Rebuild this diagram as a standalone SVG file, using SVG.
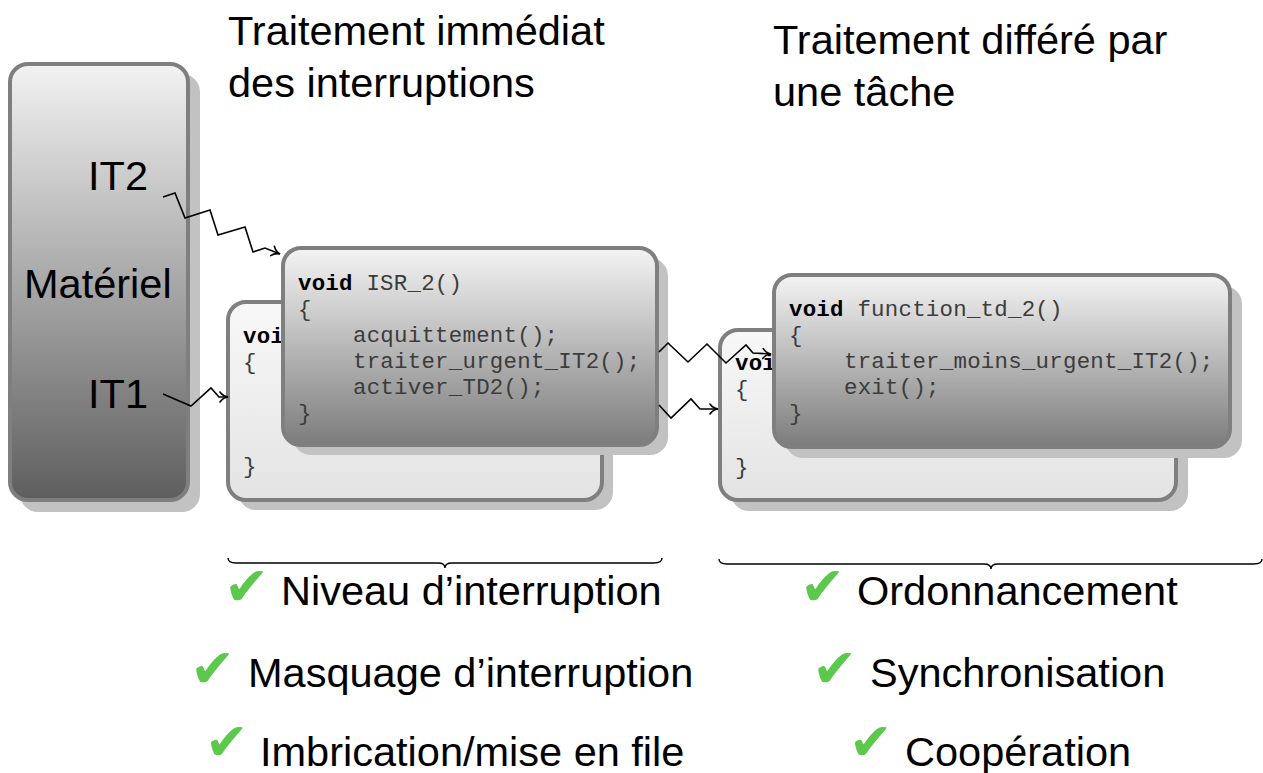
<svg xmlns="http://www.w3.org/2000/svg" width="1263" height="773" viewBox="0 0 1263 773">
  <defs>
    <linearGradient id="gHw" x1="0" y1="0" x2="0" y2="1">
      <stop offset="0" stop-color="#f2f2f2"/>
      <stop offset="1" stop-color="#5e5e5e"/>
    </linearGradient>
    <linearGradient id="gFront" x1="0" y1="0" x2="0" y2="1">
      <stop offset="0" stop-color="#f4f4f4"/>
      <stop offset="1" stop-color="#7c7c7c"/>
    </linearGradient>
    <linearGradient id="gBack" x1="0" y1="0" x2="0" y2="1">
      <stop offset="0" stop-color="#f8f8f8"/>
      <stop offset="1" stop-color="#e3e3e3"/>
    </linearGradient>
    <marker id="arrow" markerUnits="userSpaceOnUse" viewBox="-10 -6 12 12" refX="0" refY="0" markerWidth="12" markerHeight="12" orient="auto">
      <path d="M-8,-5 C-6,-2 -2.5,-0.4 0,0 C-2.5,0.4 -6,2 -8,5" fill="none" stroke="#000" stroke-width="1.6" stroke-linecap="round"/>
    </marker>
  </defs>
  <style>
    .shadow { fill: #c2c2c2; }
    .box { stroke: #7f7f7f; stroke-width: 4; }
    .title { font-family: "Liberation Sans", Arial, sans-serif; font-size: 41.5px; fill: #000; }
    .code { font-family: "Liberation Mono", "Courier New", monospace; font-size: 22.4px; letter-spacing: 0.25px; fill: #3c3c3c; white-space: pre; }
    .kw { font-weight: bold; fill: #000; }
    .check { font-family: "DejaVu Sans", sans-serif; font-size: 54px; fill: #5cc84c; }
    .check.last { font-size: 52px; }
    .wire { fill: none; stroke: #000; stroke-width: 1.6; stroke-linejoin: miter; marker-end: url(#arrow); }
    .brace { fill: none; stroke: #000; stroke-width: 1.4; }
  </style>

  <rect width="1263" height="773" fill="#fff"/>

  <!-- section headings -->
  <g id="title-immediat">
    <text class="title" x="228" y="45">Traitement immédiat</text>
    <text class="title" x="228" y="97">des interruptions</text>
  </g>
  <g id="title-differe">
    <text class="title" x="773" y="54">Traitement différé par</text>
    <text class="title" x="773" y="106">une tâche</text>
  </g>

  <!-- hardware block -->
  <g id="materiel">
    <rect class="shadow" x="20" y="74" width="180" height="438" rx="18"/>
    <rect class="box" x="10" y="64" width="178" height="436" rx="18" fill="url(#gHw)"/>
    <text class="title" x="88" y="190">IT2</text>
    <text class="title" x="24" y="298">Matériel</text>
    <text class="title" x="88" y="408">IT1</text>
  </g>

  <!-- ISR for IT1 (background card, mostly hidden) -->
  <g id="isr1">
    <rect class="shadow" x="238" y="312" width="375" height="198" rx="18"/>
    <rect class="box" x="228" y="302" width="374" height="198" rx="18" fill="url(#gBack)"/>
    <text class="code kw" x="243" y="343">void</text>
    <text class="code" x="243" y="369">{</text>
    <text class="code" x="298" y="447">activer_TD1();</text>
    <text class="code" x="243" y="473">}</text>
  </g>

  <!-- ISR for IT2 (foreground card) -->
  <g id="isr2">
    <rect class="shadow" x="293" y="258" width="375" height="197" rx="18"/>
    <rect class="box" x="283" y="248" width="374" height="197" rx="18" fill="url(#gFront)"/>
    <text class="code" x="298" y="290"><tspan class="kw">void</tspan> ISR_2()</text>
    <text class="code" x="298" y="316">{</text>
    <text class="code" x="353" y="342">acquittement();</text>
    <text class="code" x="353" y="368">traiter_urgent_IT2();</text>
    <text class="code" x="353" y="394">activer_TD2();</text>
    <text class="code" x="298" y="420">}</text>
  </g>

  <!-- deferred task for IT1 (background card, mostly hidden) -->
  <g id="td1">
    <rect class="shadow" x="731" y="340" width="457" height="171" rx="18"/>
    <rect class="box" x="720" y="330" width="456" height="170" rx="18" fill="url(#gBack)"/>
    <text class="code kw" x="735" y="370">void</text>
    <text class="code" x="735" y="396">{</text>
    <text class="code" x="790" y="448">exit();</text>
    <text class="code" x="735" y="474">}</text>
  </g>

  <!-- deferred task for IT2 (foreground card) -->
  <g id="td2">
    <rect class="shadow" x="785" y="286" width="457" height="172" rx="18"/>
    <rect class="box" x="774" y="275" width="456" height="172" rx="18" fill="url(#gFront)"/>
    <text class="code" x="789" y="316"><tspan class="kw">void</tspan> function_td_2()</text>
    <text class="code" x="789" y="342">{</text>
    <text class="code" x="844" y="368">traiter_moins_urgent_IT2();</text>
    <text class="code" x="844" y="394">exit();</text>
    <text class="code" x="789" y="420">}</text>
  </g>

  <!-- interrupt / activation signals -->
  <g id="connectors">
    <polyline class="wire" points="163,197 175,193 185,218 210,210 218,235 245,227 253,252 265,248 280,254"/>
    <polyline class="wire" points="163,394 191,406 211,388 219,397 228,397"/>
    <polyline class="wire" points="659,352 668,343 688,362 707,344 726,363 746,345 753,353 771,354"/>
    <polyline class="wire" points="659,405 671,418 691,399 700,409 718,409"/>
  </g>

  <!-- grouping braces -->
  <g id="braces">
    <path class="brace" d="M228,558 Q228,563 236,563 L438,563 Q445,563 445,568 Q445,563 452,563 L654,563 Q662,563 662,558"/>
    <path class="brace" d="M719,559 Q719,564 727,564 L984,564 Q991,564 991,569 Q991,564 998,564 L1254,564 Q1262,564 1262,559"/>
  </g>

  <!-- properties of immediate handling -->
  <g id="list-immediat">
    <text class="check" x="224" y="605">✔</text>
    <text class="title" x="281" y="605">Niveau d’interruption</text>
    <text class="check" x="190" y="687">✔</text>
    <text class="title" x="248" y="687">Masquage d’interruption</text>
    <text class="check last" x="205" y="760">✔</text>
    <text class="title" x="260" y="766">Imbrication/mise en file</text>
  </g>

  <!-- properties of deferred handling -->
  <g id="list-differe">
    <text class="check" x="800" y="605">✔</text>
    <text class="title" x="857" y="605">Ordonnancement</text>
    <text class="check" x="812" y="687">✔</text>
    <text class="title" x="870" y="687">Synchronisation</text>
    <text class="check last" x="849" y="760">✔</text>
    <text class="title" x="905" y="766">Coopération</text>
  </g>
</svg>
